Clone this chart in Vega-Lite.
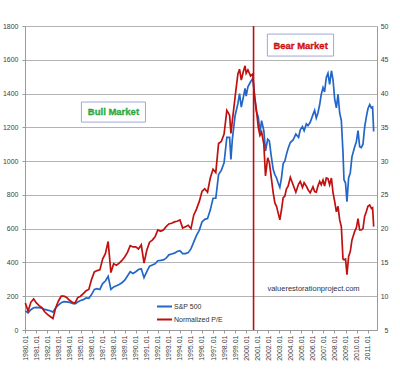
{
  "$schema": "https://vega.github.io/schema/vega-lite/v6.json",
  "width": 352,
  "height": 304,
  "autosize": {"type": "none"},
  "padding": {"left": 25, "top": 26, "right": 23, "bottom": 43},
  "background": "white",
  "config": {
    "view": {"stroke": null},
    "font": "Liberation Sans",
    "axis": {"labelFont": "Liberation Sans", "labelFontSize": 7, "labelColor": "#404040", "domainColor": "#9a9a9a", "tickColor": "#9a9a9a", "titleFontSize": 7, "labelFlush": false, "labelOverlap": false},
    "axisX": {"labelAngle": -90, "labelAlign": "right", "labelBaseline": "middle", "grid": false, "tickSize": 3, "labelPadding": 2},
    "axisY": {"grid": true, "gridColor": "#b4b4b4", "gridWidth": 1, "tickSize": 3, "labelPadding": 4}
  },
  "datasets": {
    "main": [
      {"t":1980.0,"sp":113,"pe":9.0},{"t":1980.25,"sp":102,"pe":7.8},{"t":1980.5,"sp":120,"pe":9.1},{"t":1980.75,"sp":132,"pe":9.6},
      {"t":1981.0,"sp":134,"pe":9.0},{"t":1981.25,"sp":132,"pe":8.6},{"t":1981.5,"sp":130,"pe":8.3},{"t":1981.75,"sp":122,"pe":7.7},
      {"t":1982.0,"sp":118,"pe":7.3},{"t":1982.25,"sp":114,"pe":7.0},{"t":1982.5,"sp":106,"pe":6.7},{"t":1982.75,"sp":130,"pe":8.3},
      {"t":1983.0,"sp":148,"pe":9.3},{"t":1983.25,"sp":162,"pe":10.0},{"t":1983.5,"sp":168,"pe":10.0},{"t":1983.75,"sp":167,"pe":9.8},
      {"t":1984.0,"sp":164,"pe":9.4},{"t":1984.25,"sp":158,"pe":9.1},{"t":1984.5,"sp":155,"pe":9.0},{"t":1984.75,"sp":166,"pe":9.8},
      {"t":1985.0,"sp":175,"pe":10.0},{"t":1985.25,"sp":180,"pe":10.4},{"t":1985.5,"sp":190,"pe":10.8},{"t":1985.75,"sp":188,"pe":11.0},
      {"t":1986.0,"sp":210,"pe":12.5},{"t":1986.25,"sp":240,"pe":13.6},{"t":1986.5,"sp":245,"pe":13.8},{"t":1986.75,"sp":240,"pe":13.9},
      {"t":1987.0,"sp":275,"pe":15.5},{"t":1987.25,"sp":290,"pe":16.3},{"t":1987.5,"sp":318,"pe":18.1},{"t":1987.75,"sp":240,"pe":13.5},
      {"t":1988.0,"sp":255,"pe":14.8},{"t":1988.25,"sp":262,"pe":14.6},{"t":1988.5,"sp":270,"pe":14.9},{"t":1988.75,"sp":280,"pe":15.3},
      {"t":1989.0,"sp":295,"pe":15.8},{"t":1989.25,"sp":320,"pe":16.5},{"t":1989.5,"sp":345,"pe":17.5},{"t":1989.75,"sp":335,"pe":17.3},
      {"t":1990.0,"sp":345,"pe":17.3},{"t":1990.25,"sp":358,"pe":17.0},{"t":1990.5,"sp":362,"pe":17.6},{"t":1990.75,"sp":310,"pe":14.9},
      {"t":1991.0,"sp":345,"pe":16.8},{"t":1991.25,"sp":378,"pe":18.0},{"t":1991.5,"sp":385,"pe":18.3},{"t":1991.75,"sp":392,"pe":18.8},
      {"t":1992.0,"sp":410,"pe":19.8},{"t":1992.25,"sp":412,"pe":19.6},{"t":1992.5,"sp":415,"pe":19.8},{"t":1992.75,"sp":425,"pe":20.3},
      {"t":1993.0,"sp":445,"pe":20.7},{"t":1993.25,"sp":450,"pe":20.8},{"t":1993.5,"sp":455,"pe":21.0},{"t":1993.75,"sp":465,"pe":21.1},
      {"t":1994.0,"sp":470,"pe":21.3},{"t":1994.25,"sp":452,"pe":20.1},{"t":1994.5,"sp":452,"pe":20.3},{"t":1994.75,"sp":458,"pe":20.5},
      {"t":1995.0,"sp":480,"pe":20.0},{"t":1995.25,"sp":520,"pe":22.0},{"t":1995.5,"sp":560,"pe":22.9},{"t":1995.75,"sp":590,"pe":24.0},
      {"t":1996.0,"sp":640,"pe":25.5},{"t":1996.25,"sp":655,"pe":25.9},{"t":1996.5,"sp":660,"pe":25.4},{"t":1996.75,"sp":710,"pe":27.5},
      {"t":1997.0,"sp":780,"pe":28.8},{"t":1997.25,"sp":780,"pe":28.3},{"t":1997.5,"sp":920,"pe":32.6},{"t":1997.75,"sp":945,"pe":32.9},
      {"t":1998.0,"sp":990,"pe":34.0},{"t":1998.25,"sp":1140,"pe":37.5},{"t":1998.5,"sp":1140,"pe":36.8},{"t":1998.62,"sp":1010,"pe":34.1},
      {"t":1998.75,"sp":1130,"pe":36.0},{"t":1999.0,"sp":1270,"pe":39.5},{"t":1999.25,"sp":1340,"pe":42.9},{"t":1999.4,"sp":1400,"pe":43.6},
      {"t":1999.56,"sp":1320,"pe":42.0},{"t":1999.75,"sp":1380,"pe":43.3},{"t":1999.9,"sp":1430,"pe":44.1},{"t":2000.0,"sp":1385,"pe":43.0},
      {"t":2000.16,"sp":1440,"pe":43.5},{"t":2000.4,"sp":1470,"pe":42.6},{"t":2000.6,"sp":1490,"pe":42.9},{"t":2000.75,"sp":1400,"pe":39.6},
      {"t":2000.9,"sp":1300,"pe":38.0},{"t":2001.1,"sp":1260,"pe":35.0},{"t":2001.25,"sp":1170,"pe":33.8},{"t":2001.4,"sp":1240,"pe":34.3},
      {"t":2001.6,"sp":1180,"pe":32.5},{"t":2001.75,"sp":1060,"pe":27.8},{"t":2001.95,"sp":1130,"pe":30.5},{"t":2002.1,"sp":1120,"pe":29.8},
      {"t":2002.25,"sp":1040,"pe":27.9},{"t":2002.45,"sp":950,"pe":25.3},{"t":2002.6,"sp":920,"pe":23.8},{"t":2002.75,"sp":900,"pe":23.3},
      {"t":2002.9,"sp":870,"pe":22.3},{"t":2003.05,"sp":845,"pe":21.3},{"t":2003.2,"sp":900,"pe":22.8},{"t":2003.35,"sp":985,"pe":24.6},
      {"t":2003.5,"sp":1000,"pe":24.8},{"t":2003.65,"sp":1040,"pe":25.9},{"t":2003.8,"sp":1075,"pe":26.3},{"t":2004.0,"sp":1110,"pe":27.6},
      {"t":2004.25,"sp":1125,"pe":26.5},{"t":2004.5,"sp":1160,"pe":25.4},{"t":2004.75,"sp":1140,"pe":26.6},{"t":2004.9,"sp":1185,"pe":27.0},
      {"t":2005.1,"sp":1205,"pe":26.1},{"t":2005.25,"sp":1180,"pe":26.8},{"t":2005.45,"sp":1220,"pe":26.3},{"t":2005.6,"sp":1210,"pe":25.8},
      {"t":2005.8,"sp":1230,"pe":25.3},{"t":2006.05,"sp":1275,"pe":26.2},{"t":2006.2,"sp":1300,"pe":25.5},{"t":2006.35,"sp":1255,"pe":25.4},
      {"t":2006.5,"sp":1285,"pe":26.3},{"t":2006.66,"sp":1335,"pe":27.0},{"t":2006.8,"sp":1395,"pe":26.5},{"t":2006.96,"sp":1435,"pe":27.2},
      {"t":2007.1,"sp":1410,"pe":26.3},{"t":2007.26,"sp":1495,"pe":27.5},{"t":2007.41,"sp":1520,"pe":27.4},{"t":2007.56,"sp":1455,"pe":26.5},
      {"t":2007.72,"sp":1535,"pe":27.5},{"t":2007.87,"sp":1480,"pe":25.3},{"t":2008.02,"sp":1365,"pe":24.0},{"t":2008.17,"sp":1315,"pe":22.5},
      {"t":2008.32,"sp":1395,"pe":23.3},{"t":2008.47,"sp":1285,"pe":21.3},{"t":2008.62,"sp":1240,"pe":20.3},{"t":2008.77,"sp":1050,"pe":15.5},
      {"t":2008.86,"sp":890,"pe":15.4},{"t":2009.0,"sp":870,"pe":15.5},{"t":2009.13,"sp":760,"pe":13.2},{"t":2009.28,"sp":900,"pe":15.9},
      {"t":2009.43,"sp":930,"pe":16.6},{"t":2009.58,"sp":1025,"pe":18.3},{"t":2009.83,"sp":1085,"pe":19.6},{"t":2009.98,"sp":1115,"pe":20.1},
      {"t":2010.13,"sp":1180,"pe":21.5},{"t":2010.28,"sp":1085,"pe":19.8},{"t":2010.43,"sp":1080,"pe":19.8},{"t":2010.58,"sp":1100,"pe":20.0},
      {"t":2010.73,"sp":1200,"pe":21.8},{"t":2010.88,"sp":1260,"pe":22.5},{"t":2011.03,"sp":1310,"pe":23.3},{"t":2011.19,"sp":1335,"pe":23.5},
      {"t":2011.34,"sp":1315,"pe":23.0},{"t":2011.45,"sp":1320,"pe":23.1},{"t":2011.55,"sp":1175,"pe":20.3}
    ],
    "boxes": [
      {"t":1985.08,"t2":1990.88,"sp":1231,"sp2":1350},
      {"t":2001.92,"t2":2007.92,"sp":1622,"sp2":1752}
    ],
    "bull": [{"t":1987.98,"sp":1288,"label":"Bull Market"}],
    "bear": [{"t":2004.93,"sp":1684,"label":"Bear Market"}],
    "site": [{"t":2006.1,"sp":243,"label":"valuerestorationproject.com"}],
    "divide": [{"t":2000.67}]
  },
  "encoding": {
    "x": {"field": "t", "type": "quantitative",
          "scale": {"domain": [1979.97, 2011.85], "nice": false, "zero": false},
          "axis": {"values": [1980,1981,1982,1983,1984,1985,1986,1987,1988,1989,1990,1991,1992,1993,1994,1995,1996,1997,1998,1999,2000,2001,2002,2003,2004,2005,2006,2007,2008,2009,2010,2011], "labelExpr": "datum.value + '.01'", "title": null}}
  },
  "layer": [
    {
      "encoding": {
        "y": {"field": "sp", "type": "quantitative", "scale": {"domain": [0, 1800], "nice": false, "zero": true},
              "axis": {"values": [0,200,400,600,800,1000,1200,1400,1600,1800], "title": null, "format": "d"}}
      },
      "layer": [
        {
          "data": {"name": "boxes"},
          "mark": {"type": "rect", "fill": "white", "stroke": "#9ea8d4", "strokeWidth": 1},
          "encoding": {
            "x2": {"field": "t2"},
            "y2": {"field": "sp2"}
          }
        },
        {
          "data": {"name": "bull"},
          "mark": {"type": "text", "font": "Liberation Sans", "fontWeight": "bold", "fontSize": 9.5, "fill": "#2cc048", "stroke": "#1f8a33", "strokeWidth": 0.3, "align": "center", "baseline": "middle"},
          "encoding": {"text": {"field": "label"}}
        },
        {
          "data": {"name": "bear"},
          "mark": {"type": "text", "font": "Liberation Sans", "fontWeight": "bold", "fontSize": 9.5, "fill": "#f01515", "stroke": "#b00000", "strokeWidth": 0.3, "align": "center", "baseline": "middle"},
          "encoding": {"text": {"field": "label"}}
        },
        {
          "data": {"name": "site"},
          "mark": {"type": "text", "font": "Liberation Sans", "fontSize": 7.5, "fill": "#303040", "align": "center", "baseline": "middle"},
          "encoding": {"text": {"field": "label"}}
        },
        {
          "data": {"name": "main"},
          "mark": {"type": "line", "strokeWidth": 1.7, "interpolate": "linear"},
          "encoding": {
            "color": {"datum": "S&P 500", "type": "nominal",
                      "scale": {"domain": ["S&P 500", "Normalized P/E"], "range": ["#2266c8", "#c01010"]},
                      "legend": {"title": null, "orient": "none", "legendX": 131, "legendY": 276, "symbolType": "stroke", "symbolSize": 225, "symbolStrokeWidth": 2, "clipHeight": 9, "labelFontSize": 7, "labelFont": "Liberation Sans", "labelColor": "#303030", "labelOffset": 1, "rowPadding": 4, "padding": 0}}
          }
        }
      ]
    },
    {
      "layer": [
        {
          "data": {"name": "main"},
          "mark": {"type": "line", "strokeWidth": 1.7, "interpolate": "linear"},
          "encoding": {
            "y": {"field": "pe", "type": "quantitative", "scale": {"domain": [5, 50], "nice": false, "zero": false},
                  "axis": {"orient": "right", "values": [5,10,15,20,25,30,35,40,45,50], "title": null, "grid": false, "tickSize": 0, "labelPadding": 11, "labelAlign": "right"}},
            "color": {"datum": "Normalized P/E", "type": "nominal"}
          }
        },
        {
          "data": {"name": "divide"},
          "mark": {"type": "rule", "color": "#b81010", "strokeWidth": 1.6},
          "encoding": {}
        }
      ]
    }
  ],
  "resolve": {"scale": {"y": "independent"}, "axis": {"y": "independent"}}
}
